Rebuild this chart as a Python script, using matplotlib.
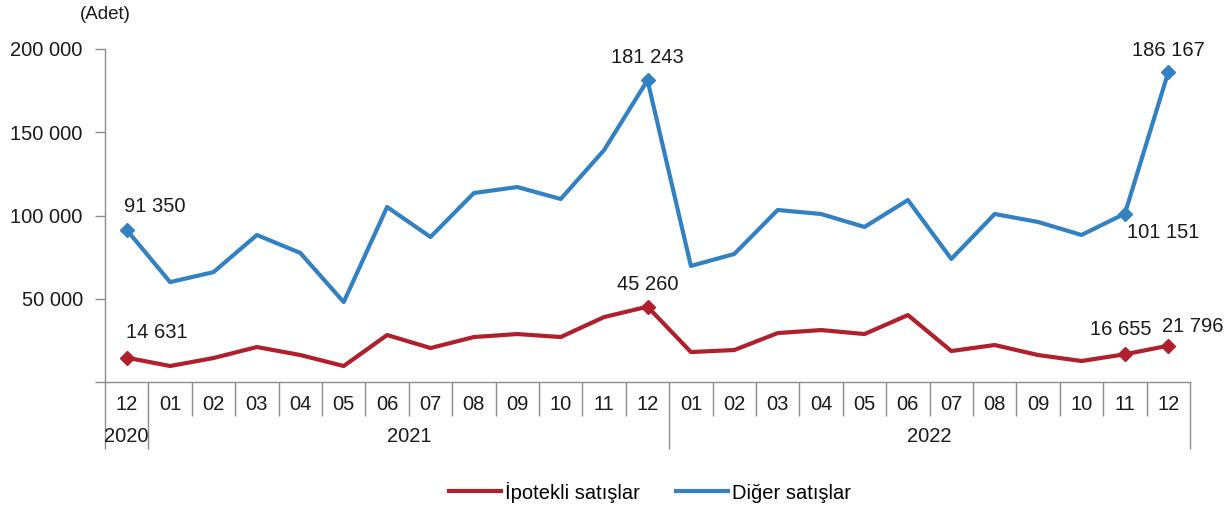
import matplotlib
matplotlib.use("Agg")
import matplotlib.pyplot as plt
import matplotlib.transforms as mtransforms

plt.rcParams['font.family'] = ['Liberation Sans', 'DejaVu Sans']

months = ["12", "01", "02", "03", "04", "05", "06", "07", "08", "09", "10", "11", "12",
          "01", "02", "03", "04", "05", "06", "07", "08", "09", "10", "11", "12"]
years = ["2020", "2021", "2022"]
year_spans = [(0, 0), (1, 12), (13, 24)]

ipotekli = [14631, 9600, 14400, 21000, 16200, 9600, 28200, 20400, 27000, 28800, 27000, 39000, 45260,
            18000, 19200, 29400, 31200, 28800, 40200, 18600, 22200, 16200, 12600, 16655, 21796]
diger = [91350, 60000, 66000, 88300, 77500, 48000, 105100, 87100, 113500, 117100, 109900, 139300, 181243,
         69700, 76900, 103300, 100900, 93100, 109300, 73900, 100900, 96100, 88300, 101151, 186167]

labelled = [0, 12, 23, 24]

red = "#B0202A"
blue = "#3282C2"
axis_gray = "#8C8C8C"
txt = "#1a1a1a"
FS = 14.5

def fmt(v):
    return f"{v:,}".replace(",", " ")

fig = plt.figure(figsize=(12.29, 5.08), dpi=100)
ax = fig.add_axes([105/1229, 1-382/508, (1190-105)/1229, (382-49)/508])

x = list(range(len(months)))
ax.plot(x, ipotekli, color=red, lw=3, solid_joinstyle='round', label="İpotekli satışlar")
ax.plot(x, diger, color=blue, lw=3, solid_joinstyle='round', label="Diğer satışlar")
for i in labelled:
    ax.plot(i, ipotekli[i], marker='D', ms=7.5, color=red, ls='none')
    ax.plot(i, diger[i], marker='D', ms=7.5, color=blue, ls='none')

ax.set_xlim(-0.5, len(months) - 0.5)
ax.set_ylim(0, 200000)

yt = [0, 50000, 100000, 150000, 200000]
ax.set_yticks(yt)
ax.set_yticklabels(["" if v == 0 else fmt(v) for v in yt], fontsize=FS, color=txt)
ax.tick_params(axis='y', length=7, width=1, color=axis_gray, pad=9)

# x ticks: boundaries
year_bounds = [-0.5, 0.5, 12.5, 24.5]
month_bounds = [b + 0.5 for b in range(len(months) - 1) if (b + 0.5) not in year_bounds]
ax.set_xticks(year_bounds)
ax.set_xticks(month_bounds, minor=True)
ax.set_xticklabels([])
ax.tick_params(axis='x', which='major', length=48, width=1, color=axis_gray)
ax.tick_params(axis='x', which='minor', length=24.5, width=1, color=axis_gray)

for s in ['top', 'right']:
    ax.spines[s].set_visible(False)
for s in ['left', 'bottom']:
    ax.spines[s].set_color(axis_gray)
    ax.spines[s].set_linewidth(1)

trans = mtransforms.blended_transform_factory(ax.transData, ax.transAxes)
for i, m in enumerate(months):
    ax.text(i, -0.069, m, transform=trans, ha='center', va='center', fontsize=FS, color=txt)
for yl, (a, b) in zip(years, year_spans):
    ax.text((a + b) / 2, -0.165, yl, transform=trans, ha='center', va='center', fontsize=FS, color=txt)

def lab(i, v, dx, dy):
    ax.annotate(fmt(v), (i, v), xytext=(dx, dy), textcoords='offset pixels',
                ha='center', va='center', fontsize=FS, color=txt)

lab(0, diger[0], 28, 23)
lab(0, ipotekli[0], 30, 25)
lab(12, diger[12], 0, 23)
lab(12, ipotekli[12], 0, 22)
lab(23, diger[23], 38, -19)
lab(23, ipotekli[23], -4, 25)
lab(24, diger[24], 0, 22)
lab(24, ipotekli[24], 24, 19)

ax.text(0, 1.105, "(Adet)", transform=ax.transAxes, ha='center', va='center', fontsize=13.5, color=txt)

fig.legend(loc='center', bbox_to_anchor=(650/1229, 1-492/508), ncol=2, frameon=False,
           fontsize=FS, handlelength=2.6, handletextpad=0.2, columnspacing=1.8)

fig.savefig("out.png", dpi=100)
